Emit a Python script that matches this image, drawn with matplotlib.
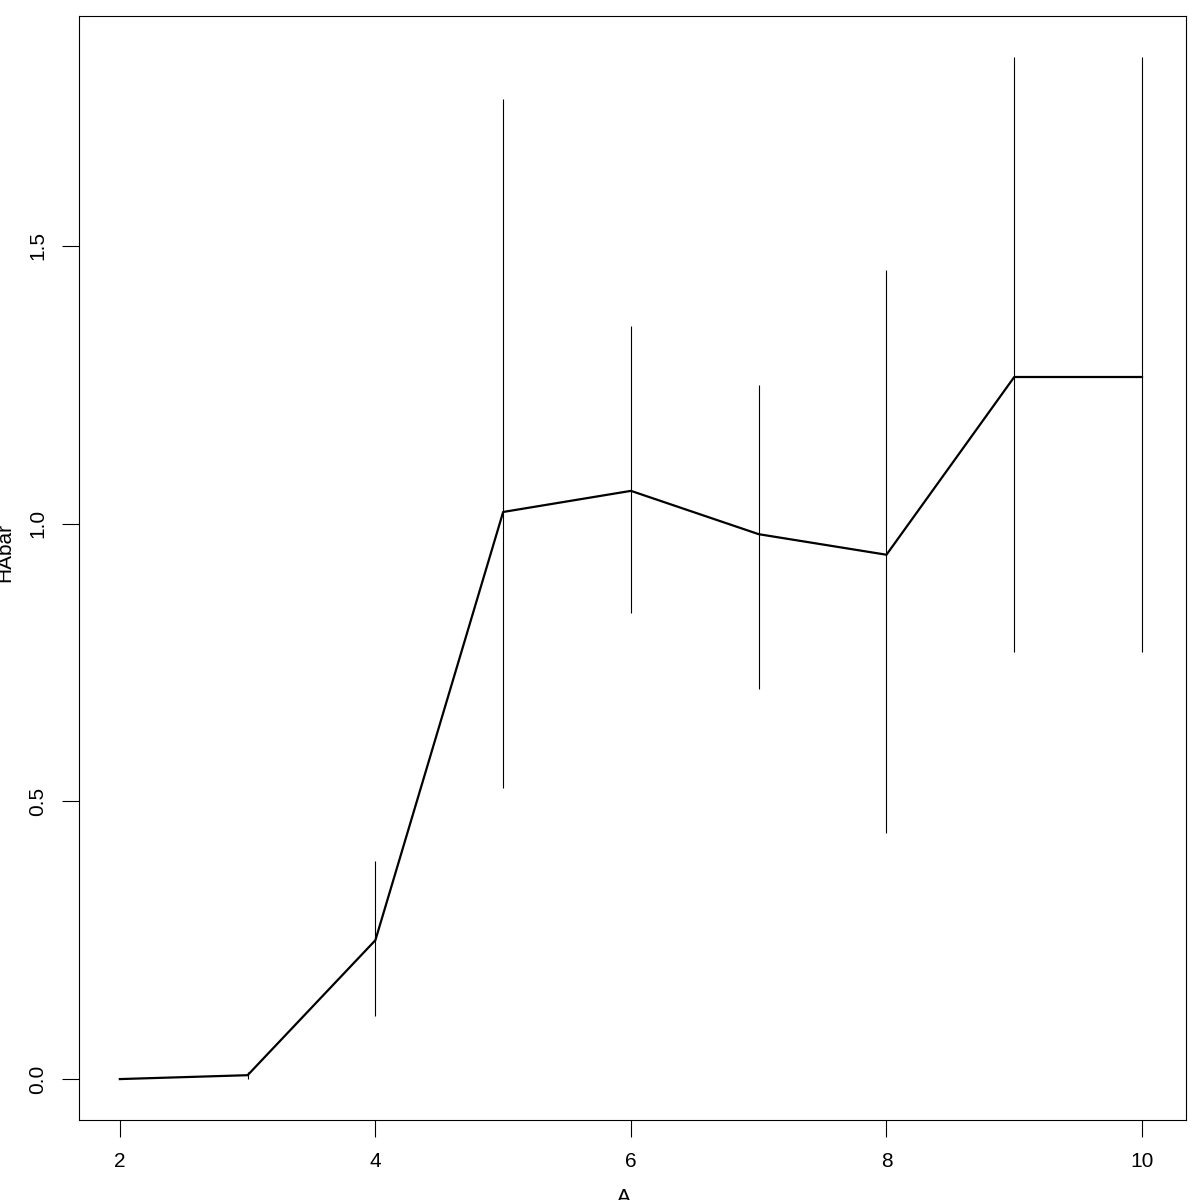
import numpy as np
import matplotlib
matplotlib.use('Agg')
import matplotlib.pyplot as plt

A = [2, 3, 4, 5, 6, 7, 8, 9, 10]
HAbar = [0.0, 0.007, 0.25, 1.021, 1.059, 0.981, 0.944, 1.264, 1.264]
upper = [0.0, 0.013, 0.393, 1.765, 1.356, 1.250, 1.457, 1.840, 1.840]
lower = [0.0, 0.001, 0.113, 0.524, 0.839, 0.702, 0.443, 0.769, 0.769]

plt.rcParams['font.family'] = ['Liberation Sans', 'DejaVu Sans']

fig = plt.figure(figsize=(12, 12), dpi=100)
ax = fig.add_axes([0.0658, 0.0667, 0.9225, 0.92])

ax.plot(A, HAbar, color='black', lw=1.6)
ax.vlines(A, lower, upper, color='black', lw=0.8)

ax.set_xlim(1.68, 10.344)
ax.set_ylim(-0.0736, 1.914)
ax.set_xticks([2, 4, 6, 8, 10])
ax.set_yticks([0.0, 0.5, 1.0, 1.5])
ax.set_yticklabels(['0.0', '0.5', '1.0', '1.5'], rotation=90, va='center')
ax.tick_params(length=12, width=0.8, labelsize=15, pad=11)
for s in ax.spines.values():
    s.set_linewidth(0.8)

fig.text(0.004, 0.54, 'HAbar', rotation=90, ha='center', va='center', fontsize=15)
fig.text(0.52, 0.002, 'A', ha='center', va='center', fontsize=15)

fig.savefig('out.png', dpi=100)
